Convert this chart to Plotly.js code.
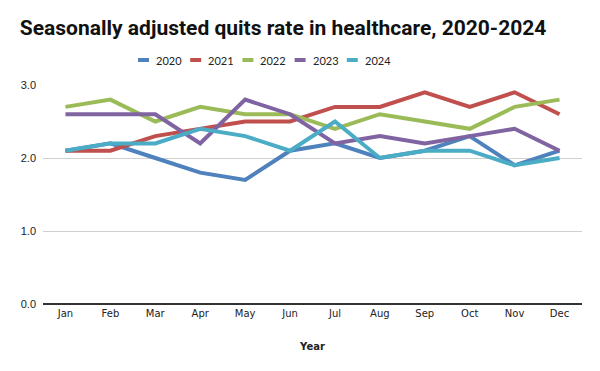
<!DOCTYPE html>
<html><head><meta charset="utf-8">
<script src="https://cdn.plot.ly/plotly-3.0.1.min.js"></script>
<style>body{margin:0;background:#fff}</style>
</head><body><div id="chart" style="width:600px;height:371px"></div>
<script>
const months = ["Jan","Feb","Mar","Apr","May","Jun","Jul","Aug","Sep","Oct","Nov","Dec"];
const years = ["2020","2021","2022","2023","2024"];
const q2020 = [2.1,2.2,2.0,1.8,1.7,2.1,2.2,2.0,2.1,2.3,1.9,2.1];
const q2021 = [2.1,2.1,2.3,2.4,2.5,2.5,2.7,2.7,2.9,2.7,2.9,2.6];
const q2022 = [2.7,2.8,2.5,2.7,2.6,2.6,2.4,2.6,2.5,2.4,2.7,2.8];
const q2023 = [2.6,2.6,2.6,2.2,2.8,2.6,2.2,2.3,2.2,2.3,2.4,2.1];
const q2024 = [2.1,2.2,2.2,2.4,2.3,2.1,2.5,2.0,2.1,2.1,1.9,2.0];
const series = [q2020,q2021,q2022,q2023,q2024];
const colors = ["#4F81BD","#C0504D","#9BBB59","#8064A2","#4BACC6"];

const traces = series.map((v,i)=>({
  x: months, y: v, name: years[i], type: "scatter", mode: "lines",
  line: {color: colors[i], width: 4}, showlegend: false
}));

// custom compact legend (layout only)
const W = 600, ml = 43, mr = 18, pw = W - ml - mr;
const px = p => (p - ml) / pw;
const legY = 1 + 25/219;
const shapes = [], annotations = [];
years.forEach((yr, i) => {
  const x0 = 138 + i*52.2;
  shapes.push({type: "line", xref: "paper", yref: "paper", x0: px(x0), x1: px(x0+11),
    y0: legY, y1: legY, line: {color: colors[i], width: 4}});
  annotations.push({xref: "paper", yref: "paper", x: px(x0+16), y: legY, xanchor: "left", yanchor: "middle",
    text: yr, showarrow: false, font: {family: "Lato", size: 11, color: "#222"}});
});

const layout = {
  width: 600, height: 371,
  margin: {l: ml, r: mr, t: 85, b: 67},
  paper_bgcolor: "#fff", plot_bgcolor: "#fff",
  title: {text: "<b>Seasonally adjusted quits rate in healthcare, 2020-2024</b>",
    font: {family: "Roboto", size: 21, color: "#111"}, x: 0.033, xanchor: "left", y: 0.925, yanchor: "middle"},
  showlegend: false,
  shapes: shapes, annotations: annotations,
  xaxis: {type: "category", range: [-0.5, 11.5], tickfont: {family: "DejaVu Sans", size: 10, color: "#222"},
    showgrid: false, showline: false, ticks: "", zeroline: false, ticklabelstandoff: 2,
    title: {text: "<b>Year</b>", font: {family: "DejaVu Sans", size: 10, color: "#222"}, standoff: 24}},
  yaxis: {range: [0, 3], dtick: 1, tickformat: ".1f", tickfont: {family: "Liberation Sans", size: 11, color: "#222"},
    showgrid: true, gridcolor: "#d0d0d0", gridwidth: 1, zeroline: true, zerolinecolor: "#333", zerolinewidth: 1.5,
    ticks: "", showline: false, fixedrange: true, ticklabelstandoff: 6}
};
Plotly.newPlot("chart", traces, layout, {displayModeBar: false, staticPlot: true});
</script></body></html>
